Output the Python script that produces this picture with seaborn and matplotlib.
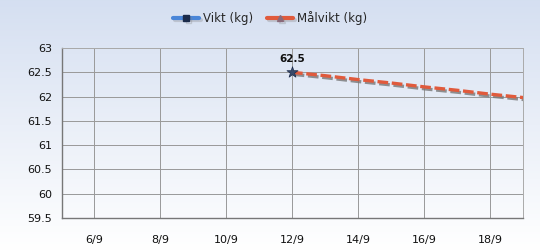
import numpy as np
import pandas as pd
import matplotlib
matplotlib.use("Agg")
import matplotlib.pyplot as plt
import matplotlib.patheffects as pe
from matplotlib.lines import Line2D
import seaborn as sns

# Data
vikt_days = [12]
vikt_values = [62.5]
mal_days = [12, 13, 14, 15, 16, 17, 18, 19]
mal_values = [62.5, 62.43, 62.35, 62.28, 62.2, 62.13, 62.05, 61.98]
x_ticks = [6, 8, 10, 12, 14, 16, 18]
x_tick_labels = ["6/9", "8/9", "10/9", "12/9", "14/9", "16/9", "18/9"]
y_ticks = [59.5, 60, 60.5, 61, 61.5, 62, 62.5, 63]
series_names = ["Vikt (kg)", "Målvikt (kg)"]

sns.set_style("white")
plt.rcParams['font.family'] = ['DejaVu Sans']

fig = plt.figure(figsize=(5.4, 2.5), dpi=100)

# gradient background
bg = fig.add_axes([0, 0, 1, 1], zorder=-10)
top = np.array([0.835, 0.875, 0.945])
bot = np.array([1.0, 1.0, 1.0])
t = np.linspace(0, 1, 256)[:, None]
grad = (top[None, :] * (1 - t) + bot[None, :] * t)
bg.imshow(grad[:, None, :].repeat(2, axis=1), aspect='auto', extent=[0, 1, 0, 1])
bg.axis('off')

ax = fig.add_axes([62/540, 32/250, (523-62)/540, (218-48)/250])
ax.set_facecolor('none')

df_mal = pd.DataFrame({"day": mal_days, "value": mal_values})
df_vikt = pd.DataFrame({"day": vikt_days, "value": vikt_values})

shadow = [pe.SimpleLineShadow(offset=(1.2, -1.5), shadow_color='#777777', alpha=0.8), pe.Normal()]

sns.lineplot(data=df_mal, x="day", y="value", ax=ax, color="#e05a3c", linewidth=2.4,
             linestyle=(0, (3.2, 1.1)), path_effects=shadow, zorder=3)
sns.scatterplot(data=df_vikt, x="day", y="value", ax=ax, marker='*', s=70,
                color="#3a4a6a", edgecolor="#1a2a4a", linewidth=0.5, zorder=5)

for d, v in zip(vikt_days, vikt_values):
    ax.annotate(f"{v:g}", (d, v), xytext=(0, 6), textcoords='offset points',
                ha='center', va='bottom', fontsize=7.5, fontweight='bold', color='#111111')

ax.set_xlim(5.03, 19.0)
ax.set_ylim(59.5, 63)
ax.set_xticks(x_ticks)
ax.set_xticklabels(x_tick_labels)
ax.set_yticks(y_ticks)
ax.set_yticklabels([f"{y:g}" for y in y_ticks])
ax.set_xlabel("")
ax.set_ylabel("")
ax.grid(True, color='#999999', linewidth=0.7)
ax.tick_params(axis='both', length=4, width=0.8, color='#555555', labelsize=8, labelcolor='#111111', direction='out', pad=3)
ax.tick_params(axis='x', pad=8)
for s in ['left', 'bottom']:
    ax.spines[s].set_color('#777777')
    ax.spines[s].set_linewidth(1)
for s in ['top', 'right']:
    ax.spines[s].set_color('#aaaaaa')
    ax.spines[s].set_linewidth(0.7)

handles = [
    Line2D([0], [0], color="#4a86d8", linewidth=3, marker='s', markersize=4,
           markerfacecolor='#1a2a4a', markeredgecolor='#1a2a4a',
           path_effects=[pe.SimpleLineShadow(offset=(1.5, -1.5), shadow_color='gray'), pe.Normal()]),
    Line2D([0], [0], color="#e05a3c", linewidth=3, marker='^', markersize=4,
           markerfacecolor='#8a6a7a', markeredgecolor='#8a6a7a',
           path_effects=[pe.SimpleLineShadow(offset=(1.5, -1.5), shadow_color='gray'), pe.Normal()]),
]
fig.legend(handles, series_names, loc='center', bbox_to_anchor=(0.5, 1 - 18/250), ncol=2,
           frameon=False, fontsize=8.5, handlelength=2.2, handletextpad=0.3, columnspacing=1.2)

fig.savefig("out.png", dpi=100)
